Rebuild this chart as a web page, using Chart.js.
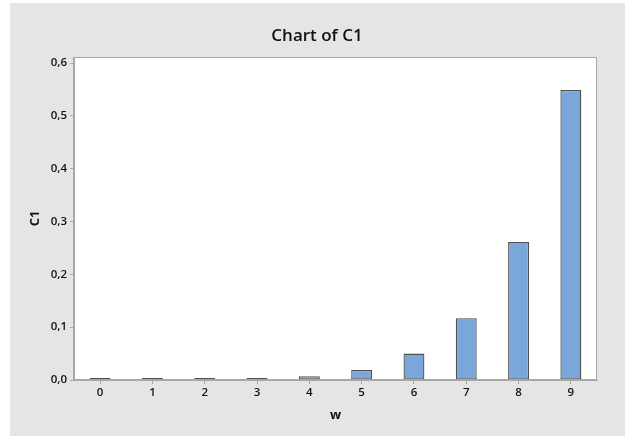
<!DOCTYPE html>
<html>
<head>
<meta charset="utf-8">
<script src="https://cdn.jsdelivr.net/npm/chart.js@4/dist/chart.umd.min.js"></script>
<style>
  html, body { margin: 0; padding: 0; background: #ffffff; }
  #wrap { width: 625px; height: 436px; position: relative; }
</style>
</head>
<body>
<div id="wrap"><canvas id="c" width="625" height="436"></canvas></div>
<script>
const categories = ['0', '1', '2', '3', '4', '5', '6', '7', '8', '9'];
const c1Values = [0.0003, 0.0004, 0.0006, 0.0010, 0.007, 0.019, 0.050, 0.117, 0.261, 0.549];
const yTicks = [0, 0.1, 0.2, 0.3, 0.4, 0.5, 0.6];
const chartTitle = 'Chart of C1';
const xTitle = 'w';
const yTitle = 'C1';

const bgPlugin = {
  id: 'bgPlugin',
  beforeDraw(chart) {
    const ctx = chart.ctx;
    const a = chart.chartArea;
    ctx.save();
    ctx.fillStyle = '#e5e5e5';
    ctx.fillRect(10, 3, chart.width - 10, chart.height - 3);
    ctx.fillStyle = '#ffffff';
    ctx.fillRect(a.left, a.top, a.right - a.left, a.bottom - a.top);
    ctx.restore();
  },
  afterDraw(chart) {
    const ctx = chart.ctx;
    const a = chart.chartArea;
    ctx.save();
    ctx.strokeStyle = '#a8a8a8';
    ctx.lineWidth = 1;
    ctx.strokeRect(Math.round(a.left) - 0.5, Math.round(a.top) + 0.5, Math.round(a.right - a.left), Math.round(a.bottom - a.top) - 1);
    ctx.restore();
  }
};

const fontFam = '"Open Sans", "Noto Sans", sans-serif';

new Chart(document.getElementById('c'), {
  type: 'bar',
  data: {
    labels: categories,
    datasets: [{
      label: yTitle,
      data: c1Values,
      backgroundColor: '#7ba6d9',
      borderColor: '#4f4f4f',
      borderWidth: 1.3,
      borderSkipped: false,
      minBarLength: 2,
      barPercentage: 0.4,
      categoryPercentage: 1.0,
      yAxisID: 'y'
    }]
  },
  options: {
    responsive: false,
    animation: false,
    devicePixelRatio: 1,
    layout: { padding: { left: 9, right: 0, top: 0, bottom: 0 } },
    plugins: {
      legend: { display: false },
      tooltip: { enabled: false },
      title: {
        display: true,
        text: chartTitle,
        color: '#111111',
        font: { family: fontFam, size: 17, weight: '600', lineHeight: 1.2 },
        padding: { top: 26, bottom: 10.6 }
      }
    },
    scales: {
      x: {
        offset: true,
        grid: { display: true, drawOnChartArea: false, drawTicks: true, tickLength: 4, color: '#a8a8a8', offset: false },
        border: { display: true, color: '#a8a8a8' },
        ticks: {
          color: '#111111',
          padding: 2,
          font: { family: fontFam, size: 11.5, weight: '600' }
        },
        title: {
          display: true,
          text: xTitle,
          color: '#111111',
          font: { family: fontFam, size: 13, weight: '700', lineHeight: 1.2 },
          padding: { top: 4, bottom: 13 }
        },
        afterFit(scale) { scale.height = 56; }
      },
      y: {
        min: 0,
        max: 0.6114,
        afterBuildTicks(scale) { scale.ticks = yTicks.map(v => ({ value: v })); },
        grid: { display: true, drawOnChartArea: false, drawTicks: true, tickLength: 4, color: '#a8a8a8' },
        border: { display: true, color: '#a8a8a8' },
        ticks: {
          color: '#111111',
          padding: 3,
          font: { family: fontFam, size: 11.5, weight: '600' },
          callback: (v) => Number(v).toFixed(1).replace('.', ',')
        },
        title: {
          display: true,
          text: yTitle,
          color: '#111111',
          font: { family: fontFam, size: 13, weight: '700', lineHeight: 1.2 },
          padding: { top: 18, bottom: 4 }
        },
        afterFit(scale) { scale.width = 65; }
      },
      yRight: {
        position: 'right',
        display: true,
        grid: { display: false },
        border: { display: false },
        ticks: { display: false },
        afterFit(scale) { scale.width = 28; }
      }
    }
  },
  plugins: [bgPlugin]
});
</script>
</body>
</html>
